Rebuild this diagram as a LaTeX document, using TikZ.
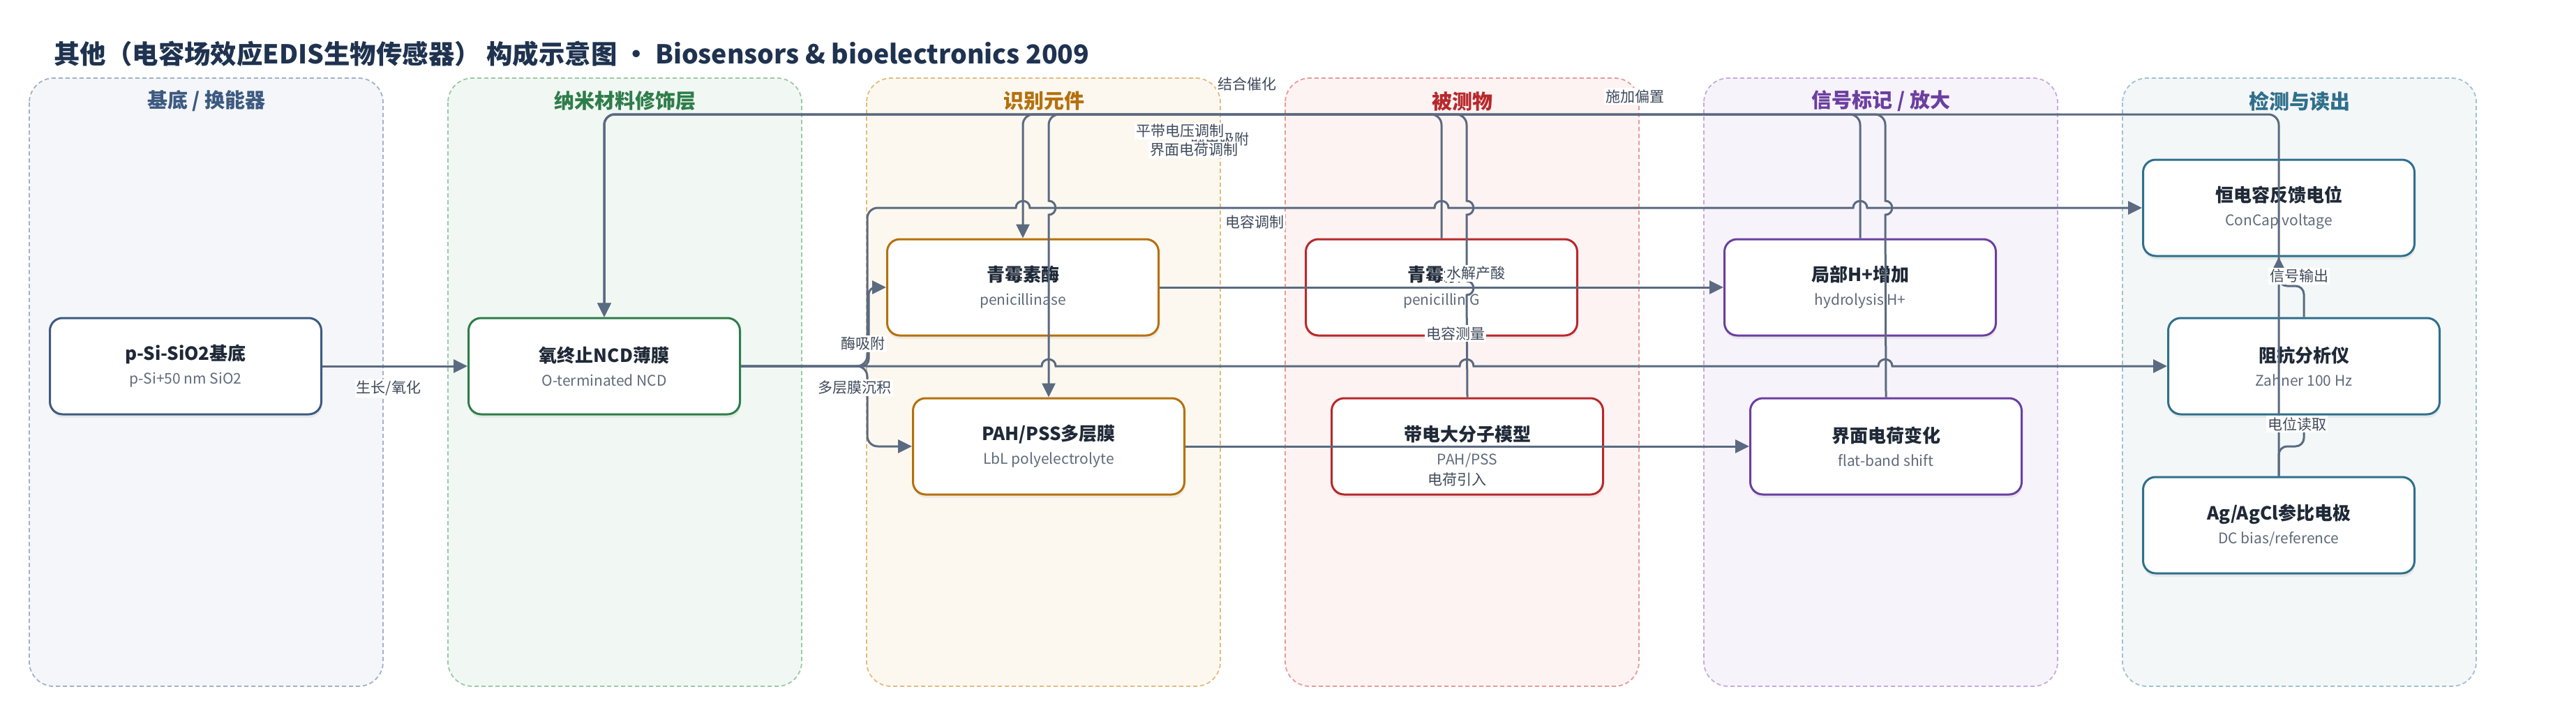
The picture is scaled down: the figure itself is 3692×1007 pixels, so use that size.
\documentclass[tikz,border=0pt]{standalone}
\usepackage{fontspec}
\setmainfont{Noto Sans CJK SC}
\usepackage{tikz}
\usetikzlibrary{arrows.meta}
\usetikzlibrary{shadows}
\usetikzlibrary{positioning}

\definecolor{wirec}{HTML}{5A6A80}
\definecolor{inkc}{HTML}{1F2937}
\definecolor{greyc}{HTML}{5F6B7A}
\definecolor{labc}{HTML}{3F4A5A}
\definecolor{headc}{HTML}{1F3350}
% panel colours: title / fill / dashed border
\definecolor{baseT}{HTML}{3D5A80}\definecolor{baseF}{HTML}{F4F6FA}\definecolor{baseD}{HTML}{A3B1C6}
\definecolor{nanoT}{HTML}{2E7D4A}\definecolor{nanoF}{HTML}{F1F8F3}\definecolor{nanoD}{HTML}{9CC8A8}
\definecolor{recoT}{HTML}{B5700D}\definecolor{recoF}{HTML}{FDF8EF}\definecolor{recoD}{HTML}{E2BB7E}
\definecolor{anaT}{HTML}{B8282B}\definecolor{anaF}{HTML}{FDF3F2}\definecolor{anaD}{HTML}{E69B99}
\definecolor{sigT}{HTML}{6B3FA0}\definecolor{sigF}{HTML}{F7F3FB}\definecolor{sigD}{HTML}{C6A9E2}
\definecolor{detT}{HTML}{2F6F8C}\definecolor{detF}{HTML}{F3F7F8}\definecolor{detD}{HTML}{9FC2CF}

\newcommand{\boxtxt}[2]{{\fontsize{26}{34}\selectfont\bfseries #1}\\{\color{greyc}#2}}

\begin{document}
\begin{tikzpicture}[x=1pt,y=-1pt,node distance=600pt,on grid,>={Triangle[length=20pt,width=19pt]},
		panel/.style={rounded corners=35pt,line width=1.8pt,dash pattern=on 6pt off 4pt},
		ptitle/.style={font=\fontsize{29}{34}\selectfont\bfseries},
		box/.style={rectangle,draw=#1,fill=white,line width=3pt,rounded corners=18pt,
			minimum width=389pt,minimum height=138pt,align=center,text=inkc,
			font=\fontsize{21}{34}\selectfont,
			drop shadow={shadow xshift=1pt,shadow yshift=-5pt,opacity=0.15,fill=black!40}},
		wire/.style={draw=wirec,line width=3pt},
		elab/.style={fill=white,inner sep=2pt,text=labc,font=\fontsize{21}{25}\selectfont}]
	\useasboundingbox (0,0) rectangle (3692,1007);
	
	\node[anchor=west,text=headc,font=\fontsize{37.4}{46}\selectfont\bfseries] (title) at (74,77)
		{其他（电容场效应EDIS生物传感器） 构成示意图 • Biosensors \& bioelectronics 2009};
	
	% lanes
	\draw[panel,draw=baseD,fill=baseF] (42,112) rectangle (549,984);
	\draw[panel,draw=nanoD,fill=nanoF] (642,112) rectangle (1149,984);
	\draw[panel,draw=recoD,fill=recoF] (1242,112) rectangle (1749,984);
	\draw[panel,draw=anaD,fill=anaF] (1842,112) rectangle (2349,984);
	\draw[panel,draw=sigD,fill=sigF] (2442,112) rectangle (2949,984);
	\draw[panel,draw=detD,fill=detF] (3042,112) rectangle (3549,984);
	\node[ptitle,text=baseT] (lane1) at (296,145) {基底 / 换能器};
	\node[ptitle,text=nanoT] (lane2) at (896,145) {纳米材料修饰层};
	\node[ptitle,text=recoT] (lane3) at (1496,145) {识别元件};
	\node[ptitle,text=anaT]  (lane4) at (2096,145) {被测物};
	\node[ptitle,text=sigT]  (lane5) at (2696,145) {信号标记 / 放大};
	\node[ptitle,text=detT]  (lane6) at (3296,145) {检测与读出};
	
	\node[box=baseT] (sub) at (266,525)   {\boxtxt{p-Si-SiO2基底}{p-Si+50 nm SiO2}};
	\node[box=nanoT] (ncd) [right=of sub] {\boxtxt{氧终止NCD薄膜}{O-terminated NCD}};
	\node[box=recoT] (pen) at (1466,412)  {\boxtxt{青霉素酶}{penicillinase}};
	\node[box=anaT]  (pg)  [right=of pen] {\boxtxt{青霉素G}{penicillin G}};
	\node[box=sigT]  (hp)  [right=of pg]  {\boxtxt{局部H+增加}{hydrolysis H+}};
	\node[box=recoT] (pah) at (1503,640)  {\boxtxt{PAH/PSS多层膜}{LbL polyelectrolyte}};
	\node[box=anaT]  (pas) [right=of pah] {\boxtxt{带电大分子模型}{PAH/PSS}};
	\node[box=sigT]  (ifc) [right=of pas] {\boxtxt{界面电荷变化}{flat-band shift}};
	\node[box=detT]  (ccv) at (3266,298)  {\boxtxt{恒电容反馈电位}{ConCap voltage}};
	\node[box=detT]  (zah) at (3302,525)  {\boxtxt{阻抗分析仪}{Zahner 100 Hz}};
	\node[box=detT]  (ref) at (3266,753)  {\boxtxt{Ag/AgCl参比电极}{DC bias/reference}};
	
	% connectors
	\draw[wire,->] (sub) -- (ncd);
	\draw[wire,->] (ref.north) [rounded corners=15pt] -- (3266,164) -- (866,164) -- (ncd.north);
	\draw[wire,->] (hp.north) [rounded corners=15pt] -- (2666,164) -- (866,164) -- (ncd.north);
	\draw[wire,->] (ifc.north) -- (2702,308) .. controls (2715,308) and (2715,288) .. (2702,288)
		-- (2702,260) [rounded corners=15pt] -- (2702,164) -- (866,164) -- (ncd.north);
	\draw[wire,->] (pg.north) [rounded corners=15pt] -- (2066,164) -- (1466,164) -- (pen.north);
	\draw[wire,->] (pas.north) -- (2102,423) .. controls (2115,423) and (2115,403) .. (2102,403)
		-- (2102,308) .. controls (2115,308) and (2115,288) .. (2102,288)
		-- (2102,260) [rounded corners=15pt] -- (2102,164) -- (1503,164) -- (1503,250) [sharp corners]
		-- (1503,288) .. controls (1516,288) and (1516,308) .. (1503,308) -- (pah.north);
	\draw[wire,->] (ncd.east) [rounded corners=15pt] -- (1243,525) -- (1243,298) -- (1420,298) [sharp corners]
		-- (1456,298) .. controls (1456,285) and (1476,285) .. (1476,298)
		-- (2056,298) .. controls (2056,285) and (2076,285) .. (2076,298)
		-- (2656,298) .. controls (2656,285) and (2676,285) .. (2676,298) -- (ccv.west);
	\draw[wire,->] (ncd.east) [rounded corners=10pt] -- (1245,525) -- (1245,412) -- (pen.west);
	\draw[wire,->] (ncd.east) [rounded corners=15pt] -- (1243,525) -- (1243,640) -- (pah.west);
	\draw[wire,->] (ncd.east) -- (1493,525) .. controls (1493,512) and (1513,512) .. (1513,525)
		-- (2092,525) .. controls (2092,512) and (2112,512) .. (2112,525)
		-- (2692,525) .. controls (2692,512) and (2712,512) .. (2712,525) -- (zah.west);
	\draw[wire,->] (pen) -- (hp);
	\draw[wire,->] (pah) -- (ifc);
	\draw[wire,->] (zah.north) [rounded corners=12pt] -- (3302,410) -- (3266,410) -- (ccv.south);
	\draw[wire,->] (ref.north) [rounded corners=12pt] -- (3266,640) -- (3302,640) -- (zah.south);
	
	% connector labels
	\node[elab] (l1)  at (557,557)  {生长/氧化};
	\node[elab] (l2)  at (1237,493) {酶吸附};
	\node[elab] (l3)  at (1225,556) {多层膜沉积};
	\node[elab] (l4)  at (1787,120) {结合催化};
	\node[elab] (l5)  at (1748,200) {静电吸附};
	\node[elab] (l6)  at (1691,188) {平带电压调制};
	\node[elab] (l7)  at (1711,215) {界面电荷调制};
	\node[elab] (l8)  at (1798,318) {电容调制};
	\node[elab] (l9)  at (2115,392) {水解产酸};
	\node[elab] (l10) at (2086,478) {电容测量};
	\node[elab] (l11) at (2343,138) {施加偏置};
	\node[elab] (l12) at (2088,688) {电荷引入};
	\node[elab] (l13) at (3295,396) {信号输出};
	\node[elab] (l14) at (3292,608) {电位读取};
\end{tikzpicture}
\end{document}
